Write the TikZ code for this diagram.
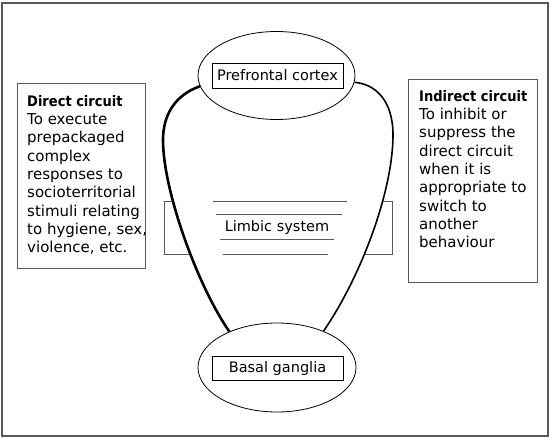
\documentclass[tikz,border=0pt]{standalone}
\usepackage{fontspec}
\setmainfont{DejaVu Sans}
\newfontfamily\headfont{DejaVu Sans Condensed Bold}
\usetikzlibrary{shapes.geometric,backgrounds}
\definecolor{framegray}{gray}{0.35}
\tikzset{
  region/.style={draw,ellipse,line width=0.8pt,minimum width=157,minimum height=88,inner sep=0},
  regionlabel/.style={draw,line width=0.8pt,minimum width=131,minimum height=25,inner sep=0,font=\fontsize{14.5}{17}\selectfont},
  sidebox/.style={draw=framegray,line width=1.2pt,anchor=north west,inner sep=0},
  sidetext/.style={anchor=north west,align=left,inner sep=0,font=\fontsize{15}{18.3}\selectfont},
  limbicline/.style={framegray,line width=0.8pt}
}
\begin{document}
\begin{tikzpicture}[x=1pt,y=-1pt]
\useasboundingbox (0,0) rectangle (552,439);
\draw[framegray,line width=1.5pt] (2,3) rectangle (548,436);
\node[sidebox,minimum width=128,minimum height=185] (directbox) at (17,83) {};
\node[sidetext] (directtext) at (27,95) {{\headfont\fontsize{14.5}{18.3}\selectfont Direct circuit}\\To execute\\prepackaged\\complex\\responses to\\socioterritorial\\stimuli relating\\to hygiene, sex,\\violence, etc.};
\node[sidebox,minimum width=129,minimum height=203] (indirectbox) at (408,79) {};
\node[sidetext] (indirecttext) at (419,90) {{\headfont\fontsize{14.5}{18.3}\selectfont Indirect circuit}\\To inhibit or\\suppress the\\direct circuit\\when it is\\appropriate to\\switch to\\another\\behaviour};
\node[region] (pfc) at (276.5,75.5) {};
\node[regionlabel] (pfctext) at (277.5,75.5) {Prefrontal cortex};
\node[region,minimum width=158,minimum height=89] (bg) at (277,367.5) {};
\node[regionlabel,minimum height=24] (bgtext) at (277.5,368) {Basal ganglia};
\node[font=\fontsize{14.5}{17}\selectfont] (limbic) at (277,227) {Limbic system};
\foreach \y/\a/\b in {201/213/347,214/216/342,239/220/334,254/223/328}
  \draw[limbicline] (\a,\y) -- (\b,\y);
\draw[line width=2.6pt] (pfc.188) .. controls (175,95) and (163,115) .. (163,140)
  .. controls (163,190) and (197,285) .. (bg.143);
\draw[line width=1.6pt] (pfc.355) .. controls (375,84) and (393,100) .. (393,135)
  .. controls (393,190) and (362,275) .. (bg.38);
\begin{scope}[on background layer]
\draw[limbicline] (164,201) rectangle (392,254);
\fill[white] (pfc.188) .. controls (175,95) and (163,115) .. (163,140)
  .. controls (163,190) and (197,285) .. (bg.143) -- (bg.38)
  .. controls (362,275) and (393,190) .. (393,135)
  .. controls (393,100) and (375,84) .. (pfc.355) -- cycle;
\end{scope}
\end{tikzpicture}
\end{document}
